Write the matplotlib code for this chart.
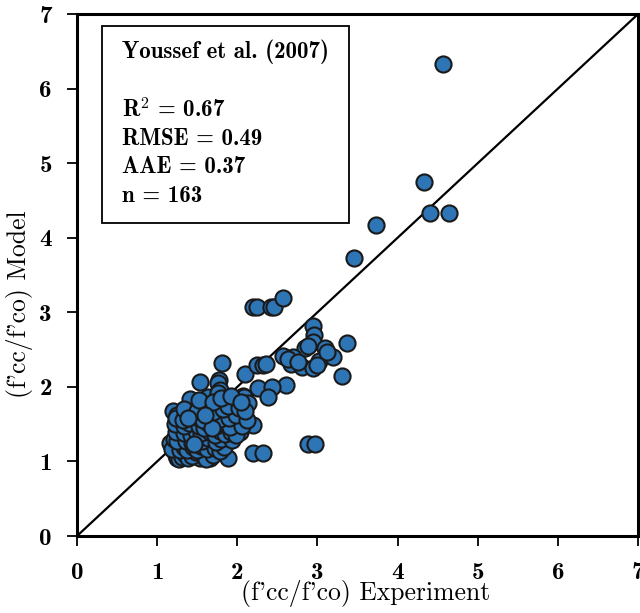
import matplotlib
matplotlib.use("Agg")
import matplotlib.pyplot as plt
from matplotlib.patches import Rectangle

plt.rcParams['axes.unicode_minus'] = False
plt.rcParams['mathtext.fontset'] = 'cm'

# Experimental vs. model confinement ratio (f'cc/f'co)
exp_vals = [
    # upper outliers
    4.56, 4.33, 4.40, 4.64, 3.73, 3.46,
    2.20, 2.25, 2.42, 2.46, 2.57,
    # high group
    2.94, 2.96, 2.94, 2.85, 2.57, 2.70, 2.67, 2.81, 2.94, 3.02, 3.09, 3.19, 3.37, 3.31, 2.61, 2.88, 2.97,
    # middle
    1.81, 1.53, 1.77, 1.76, 2.10, 2.25, 2.32, 2.36, 2.26, 2.43, 2.38, 2.07, 2.08,
    1.41, 1.64, 1.78, 1.76, 1.86, 1.97, 2.13, 1.95, 1.56, 1.20,
    1.25, 1.29, 1.45, 1.68, 1.81, 2.00, 2.20, 1.51, 1.68, 1.87,
    2.03, 1.26, 1.29, 1.41, 1.53, 1.66, 1.88, 2.20, 2.32,
    1.75, 2.07, 1.29, 1.16, 1.39, 1.60, 1.32, 1.22, 1.25, 1.23,
    # dense core
    1.23, 1.27, 1.31, 1.35, 1.38, 1.44, 1.48, 1.57, 1.61, 1.70,
    1.19, 1.28, 1.33, 1.37, 1.45, 1.50, 1.55, 1.62, 1.72, 1.78, 1.84,
    1.21, 1.25, 1.36, 1.43, 1.47, 1.56, 1.63, 1.74, 1.80, 1.93,
    1.24, 1.33, 1.42, 1.49, 1.55, 1.66, 1.72, 1.79, 1.85, 1.92, 1.98,
    1.22, 1.34, 1.40, 1.52, 1.59, 1.64, 1.74, 1.86, 1.91, 2.06,
    1.23, 1.32, 1.48, 1.57, 1.72, 1.78, 1.90, 1.98, 2.12,
    1.34, 1.50, 1.63, 1.70, 1.82, 1.88, 2.02, 2.10,
    1.52, 1.70, 1.80, 1.92, 2.04,
    3.12, 2.63, 2.99, 2.88, 2.76,
    1.46, 1.68, 1.38, 1.60,
]
model_vals = [
    6.33, 4.75, 4.33, 4.33, 4.17, 3.73,
    3.07, 3.07, 3.07, 3.07, 3.19,
    2.82, 2.70, 2.60, 2.52, 2.41, 2.40, 2.31, 2.27, 2.25, 2.35, 2.52, 2.40, 2.59, 2.15, 2.02, 1.23, 1.23,
    2.32, 2.07, 2.09, 2.05, 2.17, 2.29, 2.29, 2.31, 1.98, 2.00, 1.86, 1.88, 1.86,
    1.84, 1.87, 1.96, 1.92, 1.78, 1.81, 1.78, 1.66, 1.65, 1.68,
    1.62, 1.52, 1.46, 1.56, 1.49, 1.52, 1.49, 1.31, 1.29, 1.27,
    1.39, 1.19, 1.09, 1.13, 1.05, 1.05, 1.05, 1.11, 1.11,
    1.66, 1.65, 1.37, 1.25, 1.33, 1.35, 1.26, 1.19, 1.05, 1.19,
    1.08, 1.03, 1.06, 1.10, 1.04, 1.07, 1.12, 1.09, 1.03, 1.08,
    1.17, 1.15, 1.20, 1.16, 1.19, 1.15, 1.21, 1.17, 1.18, 1.14, 1.20,
    1.30, 1.27, 1.28, 1.25, 1.30, 1.27, 1.31, 1.26, 1.30, 1.29,
    1.40, 1.38, 1.36, 1.41, 1.38, 1.40, 1.36, 1.41, 1.37, 1.40, 1.35,
    1.50, 1.47, 1.51, 1.48, 1.45, 1.51, 1.47, 1.50, 1.46, 1.48,
    1.58, 1.56, 1.60, 1.56, 1.60, 1.57, 1.58, 1.62, 1.56,
    1.70, 1.68, 1.72, 1.66, 1.70, 1.74, 1.72, 1.68,
    1.82, 1.80, 1.85, 1.88, 1.80,
    2.47, 2.38, 2.30, 2.55, 2.33,
    1.24, 1.45, 1.58, 1.62,
]

ticks = [0, 1, 2, 3, 4, 5, 6, 7]
stats_lines = [r"R$^{\mathbf{2}}$ = 0.67", "RMSE = 0.49", "AAE = 0.37", "n = 163"]

bold_font = ['cmb10', 'DejaVu Serif']
reg_font = ['cmr10', 'DejaVu Serif']

fig = plt.figure(figsize=(6.4, 6.13), dpi=100)
ax = fig.add_axes([0.1203, 0.1256, 0.8767, 0.8515])

# 1:1 line
ax.plot([0, 7], [0, 7], color='black', lw=1.6, zorder=2)

ax.scatter(exp_vals, model_vals, s=135, color='#2e75b6', edgecolors='#1a1a1a',
           linewidths=1.5, zorder=3)

ax.set_xlim(0, 7)
ax.set_ylim(0, 7)
ax.set_xticks(ticks)
ax.set_yticks(ticks)
ax.set_xticklabels([str(t) for t in ticks], family=bold_font, fontsize=18)
ax.set_yticklabels([str(t) for t in ticks], family=bold_font, fontsize=18)
ax.tick_params(direction='out', length=7, width=1.3)
ax.tick_params(axis='x', pad=12)
ax.tick_params(axis='y', pad=11)

for sp in ax.spines.values():
    sp.set_linewidth(2.2)

ax.set_xlabel("(f'cc/f'co) Experiment", family=reg_font, fontsize=18.5)
ax.set_ylabel("(f'cc/f'co) Model", family=reg_font, fontsize=18.5)
ax.xaxis.set_label_coords(0.515, -0.085)
ax.yaxis.set_label_coords(-0.078, 0.444)

# statistics box
ax.add_patch(Rectangle((0.044, 0.6), 0.4405, 0.377, transform=ax.transAxes,
                       fill=False, edgecolor='black', lw=1.3, zorder=4))
ax.text(0.080, 0.928, "Youssef et al. (2007)", transform=ax.transAxes,
        family=bold_font, fontsize=16.5, va='center', ha='left')
y0 = 0.815
for i, line in enumerate(stats_lines):
    ax.text(0.080, y0 - i * 0.0545, line, transform=ax.transAxes,
            family=bold_font, fontsize=16.5, va='center', ha='left')

fig.savefig("out.png", dpi=100)
